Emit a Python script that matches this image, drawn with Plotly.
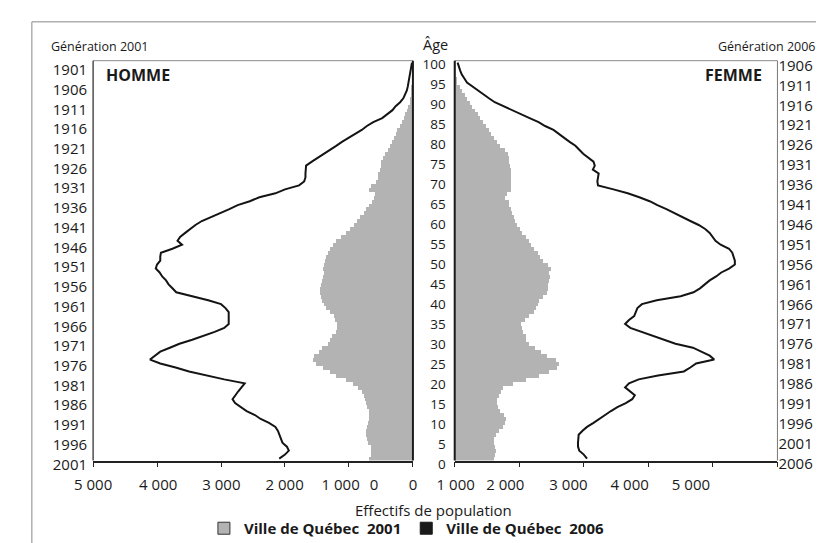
import plotly.graph_objects as go

W, H = 824, 543

# ---------------- data ----------------
ages = list(range(0, 101))

male_2001 = [680, 650, 650, 660, 700, 720, 730, 730, 720, 700,
             690, 680, 690, 720, 730, 740, 770, 800, 850, 930,
             1050, 1200, 1300, 1400, 1520, 1560, 1540, 1470, 1420, 1330,
             1290, 1260, 1200, 1190, 1180, 1210, 1230, 1300, 1360, 1390,
             1420, 1440, 1450, 1450, 1440, 1420, 1400, 1390, 1400, 1390,
             1370, 1350, 1330, 1290, 1250, 1200, 1130, 1050, 980, 920,
             870, 820, 770, 730, 680, 640, 600, 590, 680, 660,
             570, 550, 540, 520, 500, 490, 460, 430, 390, 350,
             320, 290, 270, 240, 200, 170, 140, 120, 95, 70,
             50, 40, 30, 20, 15, 10, 6, 4, 3, 2, 2]

female_2001 = [600, 620, 630, 620, 600, 600, 640, 680, 740, 770,
               790, 760, 700, 670, 650, 650, 680, 720, 750, 900,
               1100, 1300, 1450, 1580, 1610, 1560, 1420, 1330, 1240, 1150,
               1100, 1100, 1060, 1040, 1030, 1080, 1140, 1220, 1260, 1280,
               1300, 1360, 1420, 1440, 1440, 1460, 1470, 1460, 1480, 1440,
               1360, 1320, 1280, 1220, 1170, 1140, 1100, 1040, 1000, 960,
               930, 910, 880, 860, 840, 830, 780, 800, 860, 870,
               870, 870, 870, 860, 850, 840, 830, 820, 780, 700,
               650, 610, 560, 520, 480, 430, 390, 350, 310, 270,
               230, 190, 150, 110, 70, 35, 20, 12, 8, 5, 3]

male_2006 = [2090, 2000, 1940, 1970, 2040, 2060, 2090, 2110, 2150, 2250,
             2380, 2470, 2600, 2700, 2780, 2820, 2780, 2730, 2680, 2630,
             2950, 3250, 3500, 3710, 3950, 4110, 4030, 3950, 3800, 3650,
             3450, 3260, 3100, 2950, 2880, 2880, 2880, 2880, 2930, 3000,
             3200, 3450, 3700, 3760, 3820, 3860, 3920, 3960, 4020, 4000,
             3950, 3950, 3940, 3760, 3610, 3680, 3640, 3560, 3480, 3400,
             3300, 3150, 3000, 2870, 2740, 2550, 2400, 2150, 2000, 1780,
             1700, 1680, 1680, 1680, 1670, 1580, 1480, 1380, 1290, 1200,
             1110, 1000, 900, 800, 720, 620, 480, 400, 320, 270,
             200, 150, 120, 95, 80, 70, 55, 45, 35, 25, 15]

female_2006 = [2050, 2000, 1930, 1910, 1910, 1910, 1920, 1980, 2050, 2150,
               2250, 2330, 2420, 2520, 2650, 2750, 2790, 2720, 2640, 2700,
               2850, 3150, 3550, 3650, 3740, 4020, 3950, 3820, 3690, 3420,
               3240, 3050, 2880, 2720, 2640, 2700, 2780, 2810, 2830, 2900,
               3130, 3500, 3700, 3800, 3880, 3950, 4050, 4130, 4250, 4340,
               4340, 4320, 4300, 4250, 4120, 4040, 4000, 3950, 3880, 3780,
               3650, 3530, 3420, 3280, 3140, 3020, 2860, 2680, 2460, 2220,
               2210, 2220, 2230, 2140, 2170, 2150, 2060, 1990, 1930, 1870,
               1780, 1690, 1620, 1530, 1400, 1300, 1160, 1030, 900, 750,
               620, 530, 440, 350, 260, 190, 150, 110, 85, 65, 45]

x_ticks = [0, 1000, 2000, 3000, 4000, 5000]
left_label_pos = [5000, 3982, 2994, 2006, 1130, 608, 0]
left_label_text = ["5 000", "4 000", "3 000", "2 000", "1 000", "0", "0"]
right_label_pos = [15, 783, 1762, 2711, 3660]
right_label_text = ["1 000", "2 000", "3 000", "4 000", "5 000"]
age_ticks = list(range(0, 101, 5))
age_text = [str(a) for a in age_ticks]
gen_2001 = [str(2001 - a) for a in age_ticks]
gen_2006 = [str(2006 - a) for a in age_ticks]

# ---------------- style ----------------
FONT = "Open Sans, Noto Sans, sans-serif"
TXT = "#1a1a1a"
GRAY = "#b3b3b3"
LINE = "#141414"


def px(x):
    return x / W


def py(y):
    return 1 - y / H


xl_dom = [px(68), px(397)]
xr_dom = [px(440), px(772)]
y_dom = [py(457), py(45)]
AGE_RANGE = [-0.5, 100.5]

fig = go.Figure()

fig.add_trace(go.Bar(y=ages, x=male_2001, orientation="h", xaxis="x", yaxis="y",
                     width=1, marker=dict(color=GRAY, line=dict(width=0)),
                     showlegend=False, hoverinfo="skip"))
fig.add_trace(go.Bar(y=ages, x=female_2001, orientation="h", xaxis="x2", yaxis="y2",
                     width=1, marker=dict(color=GRAY, line=dict(width=0)),
                     showlegend=False, hoverinfo="skip"))
fig.add_trace(go.Scatter(y=ages, x=male_2006, mode="lines", xaxis="x", yaxis="y",
                         line=dict(color=LINE, width=2), showlegend=False))
fig.add_trace(go.Scatter(y=ages, x=female_2006, mode="lines", xaxis="x2", yaxis="y2",
                         line=dict(color=LINE, width=2), showlegend=False))

# legend entries
fig.add_trace(go.Bar(x=[None], y=[None], orientation="h", xaxis="x2", yaxis="y2",
                     name="Ville de Québec\u00a0 2001",
                     marker=dict(color=GRAY, line=dict(color="#333", width=1))))
fig.add_trace(go.Bar(x=[None], y=[None], orientation="h", xaxis="x2", yaxis="y2",
                     name="Ville de Québec\u00a0 2006",
                     marker=dict(color="#1a1a1a", line=dict(color="#1a1a1a", width=1))))

# empty traces so that the label-only axes get drawn
for xa, ya in [("x3", "y"), ("x4", "y2"), ("x", "y3"), ("x2", "y4"), ("x2", "y5")]:
    fig.add_trace(go.Scatter(x=[None], y=[None], xaxis=xa, yaxis=ya, mode="lines",
                             showlegend=False, hoverinfo="skip"))

tickfont = dict(family=FONT, size=15, color=TXT)
base_x = dict(showgrid=False, zeroline=False, showline=True, linecolor="#222",
              linewidth=1.5, ticks="outside", ticklen=5, tickwidth=1.3, tickcolor="#222",
              tickvals=x_ticks, showticklabels=False, fixedrange=True)
lab_x = dict(showgrid=False, zeroline=False, showline=False, ticks="",
             tickfont=tickfont, ticklabelstandoff=13, fixedrange=True)
base_y = dict(showgrid=False, zeroline=False, showline=False, ticks="",
              showticklabels=False, range=AGE_RANGE, domain=y_dom, fixedrange=True)
lab_y = dict(showgrid=False, zeroline=False, showline=False, ticks="",
             tickvals=age_ticks, range=AGE_RANGE, anchor="free", fixedrange=True)

fig.update_layout(
    width=W, height=H, autosize=False,
    margin=dict(l=0, r=0, t=0, b=0),
    paper_bgcolor="white", plot_bgcolor="rgba(0,0,0,0)",
    barmode="overlay", bargap=0,
    font=dict(family=FONT, color=TXT),
    xaxis=dict(base_x, domain=xl_dom, range=[5000, 0], anchor="y"),
    xaxis2=dict(base_x, domain=xr_dom, range=[0, 5000], anchor="y2"),
    xaxis3=dict(lab_x, overlaying="x", range=[5000, 0], anchor="y", side="bottom",
                tickvals=left_label_pos, ticktext=left_label_text),
    xaxis4=dict(lab_x, overlaying="x2", range=[0, 5000], anchor="y2", side="bottom",
                tickvals=right_label_pos, ticktext=right_label_text),
    yaxis=dict(base_y, anchor="x"),
    yaxis2=dict(base_y, anchor="x2"),
    # generation labels, left side
    yaxis3=dict(lab_y, domain=[py(463), py(52.4)], position=px(68), side="left",
                ticktext=gen_2001, tickfont=tickfont, ticklabelstandoff=6),
    # age labels, between the panels
    yaxis4=dict(lab_y, domain=[py(463), py(47)], position=px(440), side="left",
                ticktext=age_text, tickfont=dict(tickfont, size=13.5), ticklabelstandoff=9),
    # generation labels, right side
    yaxis5=dict(lab_y, domain=[py(462), py(48)], position=px(772), side="right",
                ticktext=gen_2006, tickfont=tickfont, ticklabelstandoff=0),
    legend=dict(orientation="h", x=px(182), xanchor="left", y=py(527), yanchor="middle",
                font=dict(family=FONT, size=15, color=TXT, weight="bold"),
                bgcolor="rgba(0,0,0,0)", itemclick=False, itemdoubleclick=False,
                tracegroupgap=0),
    showlegend=True,
)

shapes = [
    # left panel frame
    dict(type="line", xref="x domain", yref="y domain", x0=0, x1=1, y0=1, y1=1,
         line=dict(color="#8a8a8a", width=1)),
    dict(type="line", xref="x domain", yref="y domain", x0=0, x1=0, y0=0, y1=1,
         line=dict(color="#333", width=1.3)),
    dict(type="line", xref="x domain", yref="y domain", x0=1, x1=1, y0=0, y1=1,
         line=dict(color="#1a1a1a", width=2)),
    # right panel frame
    dict(type="line", xref="x2 domain", yref="y2 domain", x0=0, x1=1, y0=1, y1=1,
         line=dict(color="#8a8a8a", width=1)),
    dict(type="line", xref="x2 domain", yref="y2 domain", x0=0, x1=0, y0=0, y1=1,
         line=dict(color="#1a1a1a", width=2)),
    dict(type="line", xref="x2 domain", yref="y2 domain", x0=1, x1=1, y0=0, y1=1,
         line=dict(color="#777", width=1)),
    # outer border of the figure
    dict(type="line", xref="paper", yref="paper", x0=px(5), x1=1, y0=py(5), y1=py(5),
         line=dict(color="#888", width=1)),
    dict(type="line", xref="paper", yref="paper", x0=px(5), x1=px(5), y0=0, y1=py(5),
         line=dict(color="#888", width=1)),
]
fig.update_layout(shapes=shapes)

ann = [
    dict(text="Génération 2001", x=px(23), y=py(30), xanchor="left", yanchor="middle",
         font=dict(size=12.5, family=FONT, color=TXT)),
    dict(text="Âge", x=px(405), y=py(28), xanchor="left", yanchor="middle",
         font=dict(size=14.5, family=FONT, color=TXT)),
    dict(text="Génération 2006", x=px(813), y=py(30), xanchor="right", yanchor="middle",
         font=dict(size=12.5, family=FONT, color=TXT)),
    dict(text="<b>HOMME</b>", x=px(79), y=py(60), xanchor="left", yanchor="middle",
         font=dict(size=16, family=FONT, color=TXT)),
    dict(text="<b>FEMME</b>", x=px(758), y=py(60), xanchor="right", yanchor="middle",
         font=dict(size=16, family=FONT, color=TXT)),
    dict(text="Effectifs de population", x=px(418), y=py(508), xanchor="center",
         yanchor="middle", font=dict(size=15, family=FONT, color=TXT)),
]
for a in ann:
    a.update(xref="paper", yref="paper", showarrow=False)
fig.update_layout(annotations=ann)

fig.write_html("out.html")
